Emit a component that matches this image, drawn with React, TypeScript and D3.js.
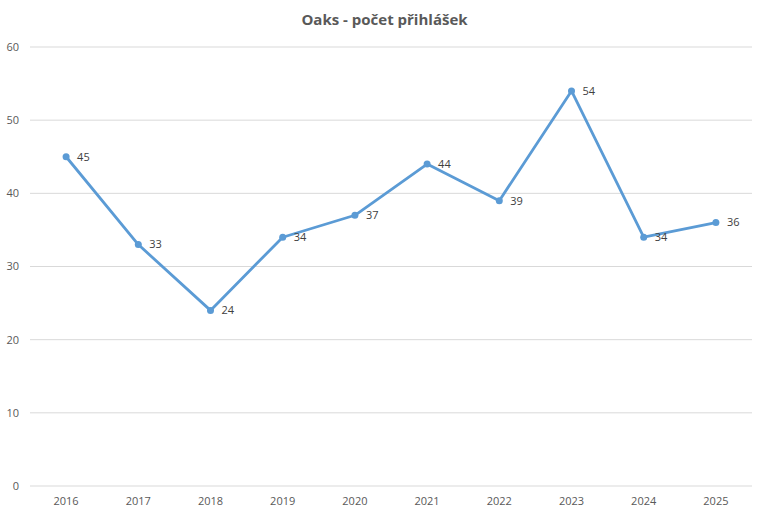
import React from "react";
import * as d3 from "d3";

const years = ["2016", "2017", "2018", "2019", "2020", "2021", "2022", "2023", "2024", "2025"];
const applications = [45, 33, 24, 34, 37, 44, 39, 54, 34, 36];
const yTicks = [0, 10, 20, 30, 40, 50, 60];
const title = "Oaks - počet přihlášek";

const W = 765;
const H = 517;
const left = 30;
const right = 752;
const top = 47;
const bottom = 486;
const font = "'Open Sans', 'Noto Sans', sans-serif";

export default function App() {
  const x = d3.scaleBand<string>().domain(years).range([left, right]);
  const y = d3.scaleLinear().domain([0, 60]).range([bottom, top]);
  const cx = (d: string) => (x(d) ?? 0) + x.bandwidth() / 2;
  const line = d3
    .line<number>()
    .x((_, i) => cx(years[i]))
    .y((v) => y(v));

  return (
    <svg
      width={W}
      height={H}
      style={{ position: "absolute", left: 0, top: 0, background: "#fff" }}
      fontFamily={font}
    >
      <rect x={0} y={0} width={W} height={H} fill="#fff" />
      <text x={W / 2 + 2} y={25} textAnchor="middle" fontSize={15} fontWeight="bold" fill="#595959">
        {title}
      </text>
      {yTicks.map((t) => (
        <g key={t}>
          <line x1={left} x2={right} y1={y(t)} y2={y(t)} stroke="#d9d9d9" strokeWidth={1} />
          <text x={19} y={y(t)} dy="0.35em" textAnchor="end" fontSize={11} fill="#595959">
            {t}
          </text>
        </g>
      ))}
      {years.map((yr) => (
        <text key={yr} x={cx(yr)} y={505} textAnchor="middle" fontSize={11} fill="#595959">
          {yr}
        </text>
      ))}
      <path d={line(applications) ?? ""} fill="none" stroke="#5B9BD5" strokeWidth={2.8} strokeLinejoin="round" strokeLinecap="round" />
      {applications.map((v, i) => (
        <g key={i}>
          <circle cx={cx(years[i])} cy={y(v)} r={3.5} fill="#5B9BD5" />
          <text x={cx(years[i]) + 11} y={y(v)} dy="0.35em" fontSize={11} fill="#404040">
            {v}
          </text>
        </g>
      ))}
    </svg>
  );
}
